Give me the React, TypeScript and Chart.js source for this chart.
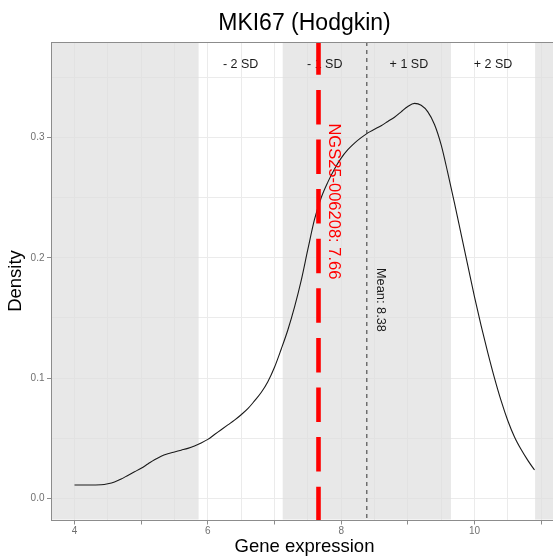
import React, { useEffect, useRef } from "react";
import { Chart, registerables } from "chart.js";

Chart.register(...registerables);

// ---- data ----
const DENSITY_X = [
  4.0, 4.2, 4.4, 4.5, 4.6, 4.7, 4.8, 4.9, 5.0, 5.1, 5.2, 5.3, 5.4, 5.5, 5.6, 5.7, 5.8, 5.9,
  6.0, 6.1, 6.2, 6.3, 6.4, 6.5, 6.6, 6.7, 6.8, 6.9, 7.0, 7.1, 7.2, 7.3, 7.4, 7.5, 7.6, 7.7,
  7.8, 7.9, 8.0, 8.1, 8.2, 8.3, 8.4, 8.5, 8.6, 8.7, 8.8, 8.9, 9.0, 9.1, 9.2, 9.3, 9.4, 9.5,
  9.6, 9.7, 9.8, 9.9, 10.0, 10.1, 10.2, 10.3, 10.4, 10.5, 10.6, 10.7, 10.8, 10.9,
];
const DENSITY_Y = [
  0.011, 0.011, 0.0112, 0.012, 0.0135, 0.016, 0.019, 0.022, 0.025, 0.0285, 0.032, 0.035, 0.037,
  0.0385, 0.04, 0.0415, 0.0435, 0.046, 0.049, 0.053, 0.057, 0.061, 0.065, 0.0695, 0.0745, 0.081,
  0.088, 0.097, 0.109, 0.124, 0.14, 0.159, 0.181, 0.207, 0.232, 0.25, 0.263, 0.274, 0.283,
  0.29, 0.2955, 0.3, 0.304, 0.307, 0.31, 0.3135, 0.317, 0.3215, 0.326, 0.3285, 0.327, 0.3215,
  0.311, 0.294, 0.2705, 0.2455, 0.2195, 0.1935, 0.1675, 0.1435, 0.121, 0.1, 0.081, 0.0645, 0.051,
  0.0405, 0.0315, 0.0235,
];

const TITLE = "MKI67 (Hodgkin)";
const X_TITLE = "Gene expression";
const Y_TITLE = "Density";
const SAMPLE_ID = "NGS25-006208";
const SAMPLE_VALUE = 7.66;
const SAMPLE_LABEL = "NGS25-006208: 7.66";
const MEAN_VALUE = 8.385;
const MEAN_LABEL = "Mean: 8.38";
const SD_VALUE = 1.262;
const SD_STEPS = [-2, -1, 0, 1, 2];
const SD_LABELS = ["- 2 SD", "- 1 SD", "+ 1 SD", "+ 2 SD"];
const SD_LABEL_Y = 0.3615;
const SAMPLE_LABEL_POS = [7.91, 0.247];
const MEAN_LABEL_POS = [8.6, 0.165];

const X_MIN = 3.655;
const X_MAX = 11.245;
const Y_MIN = -0.0181;
const Y_MAX = 0.3796;
const X_GRID = [4, 4.5, 5, 5.5, 6, 6.5, 7, 7.5, 8, 8.5, 9, 9.5, 10, 10.5, 11];
const X_TICK_MARKS = [4, 5, 6, 7, 8, 9, 10, 11];
const X_LABELS = [4, 6, 8, 10];
const Y_GRID = [0, 0.05, 0.1, 0.15, 0.2, 0.25, 0.3, 0.35];
const Y_LABELS = [0, 0.1, 0.2, 0.3];

const FONT = "'Liberation Sans', Arial, Helvetica, sans-serif";
const AXIS_COLOR = "#8c8c8c";
const GRID_COLOR = "#ebebeb";
const TICK_TEXT = "#707070";
const BAND_COLOR = "rgba(222,222,222,0.7)";

const annotationPlugin = {
  id: "sdAnnotations",
  beforeDatasetsDraw(chart: any) {
    const { ctx, chartArea: a, scales } = chart;
    const x = scales.x;
    const y = scales.y;
    const edges = SD_STEPS.map((k) => x.getPixelForValue(MEAN_VALUE + k * SD_VALUE));
    ctx.save();
    ctx.beginPath();
    ctx.rect(a.left + 0.5, a.top + 0.5, a.right - a.left - 1, a.bottom - a.top - 1);
    ctx.clip();
    ctx.fillStyle = BAND_COLOR;
    const h = a.bottom - a.top;
    ctx.fillRect(a.left, a.top, edges[0] - a.left, h);
    ctx.fillRect(edges[1], a.top, edges[3] - edges[1], h);
    ctx.fillRect(edges[4], a.top, a.right - edges[4], h);
    // SD labels
    const size = 12.5;
    ctx.font = `${size}px ${FONT}`;
    ctx.fillStyle = "#1a1a1a";
    ctx.textAlign = "center";
    ctx.textBaseline = "alphabetic";
    const ly = y.getPixelForValue(SD_LABEL_Y) + 0.358 * size;
    SD_LABELS.forEach((lab, i) => {
      const cx = (edges[i] + edges[i + 1]) / 2;
      ctx.fillText(lab, cx, ly);
    });
    ctx.restore();
  },
  afterDatasetsDraw(chart: any) {
    const { ctx, chartArea: a, scales } = chart;
    const x = scales.x;
    const y = scales.y;
    const drawRot = (text: string, vx: number, vy: number, size: number, color: string) => {
      ctx.save();
      ctx.translate(x.getPixelForValue(vx), y.getPixelForValue(vy));
      ctx.rotate(Math.PI / 2);
      ctx.font = `${size}px ${FONT}`;
      ctx.fillStyle = color;
      ctx.textAlign = "center";
      ctx.textBaseline = "alphabetic";
      ctx.fillText(text, 0, 0.358 * size);
      ctx.restore();
    };
    drawRot(SAMPLE_LABEL, SAMPLE_LABEL_POS[0], SAMPLE_LABEL_POS[1], 16.5, "#ff0000");
    drawRot(MEAN_LABEL, MEAN_LABEL_POS[0], MEAN_LABEL_POS[1], 12.8, "#1a1a1a");
    // top border of panel
    ctx.save();
    ctx.strokeStyle = AXIS_COLOR;
    ctx.lineWidth = 1;
    ctx.beginPath();
    const ty = Math.round(a.top) + 0.5;
    ctx.moveTo(a.left, ty);
    ctx.lineTo(a.right, ty);
    ctx.stroke();
    ctx.restore();
    // title centred over the panel
    ctx.save();
    const ts = 23;
    ctx.font = `${ts}px ${FONT}`;
    ctx.fillStyle = "#000000";
    ctx.textAlign = "center";
    ctx.textBaseline = "alphabetic";
    ctx.fillText(TITLE, (a.left + a.right) / 2, 29.5);
    ctx.restore();
  },
};

export default function App() {
  const canvasRef = useRef<HTMLCanvasElement | null>(null);

  useEffect(() => {
    if (!canvasRef.current) return;
    Chart.defaults.font.family = FONT;
    const curve = DENSITY_X.map((v, i) => ({ x: v, y: DENSITY_Y[i] }));
    const chart = new Chart(canvasRef.current, {
      type: "line",
      data: {
        datasets: [
          {
            label: SAMPLE_ID,
            data: [
              { x: SAMPLE_VALUE, y: Y_MAX },
              { x: SAMPLE_VALUE, y: Y_MIN },
            ],
            borderColor: "#ff0000",
            borderWidth: 4.6,
            borderDash: [34.5, 15.1],
            borderDashOffset: 1.7,
            pointRadius: 0,
            tension: 0,
            fill: false,
          },
          {
            label: "Mean",
            data: [
              { x: MEAN_VALUE, y: Y_MAX },
              { x: MEAN_VALUE, y: Y_MIN },
            ],
            borderColor: "#333333",
            borderWidth: 1,
            borderDash: [4, 4],
            pointRadius: 0,
            tension: 0,
            fill: false,
          },
          {
            label: "Density",
            data: curve,
            borderColor: "#1a1a1a",
            borderWidth: 1.1,
            pointRadius: 0,
            cubicInterpolationMode: "monotone",
            fill: false,
          },
        ],
      },
      options: {
        animation: false,
        responsive: false,
        devicePixelRatio: 1,
        layout: { padding: { left: 0, right: 42.5, top: 42, bottom: 0 } },
        plugins: {
          legend: { display: false },
          tooltip: { enabled: false },
          title: { display: false },
        },
        scales: {
          x: {
            type: "linear",
            min: X_MIN,
            max: X_MAX,
            afterBuildTicks: (axis: any) => {
              axis.ticks = X_GRID.map((v) => ({ value: v }));
            },
            afterFit: (s: any) => {
              s.height = 40;
            },
            ticks: {
              autoSkip: false,
              maxRotation: 0,
              minRotation: 0,
              padding: 1,
              color: TICK_TEXT,
              font: { size: 10, family: FONT },
              callback: (v: any) => (X_LABELS.includes(Number(v)) ? String(v) : ""),
            },
            grid: {
              color: GRID_COLOR,
              lineWidth: 1,
              tickLength: 4.5,
              tickColor: (c: any) =>
                c.tick && X_TICK_MARKS.includes(c.tick.value) ? AXIS_COLOR : "rgba(0,0,0,0)",
            },
            border: { display: true, color: AXIS_COLOR, width: 1 },
            title: {
              display: true,
              text: X_TITLE,
              color: "#000000",
              font: { size: 18.5, family: FONT, lineHeight: 1.2 },
              padding: { top: 0, bottom: 1.5 },
            },
          },
          y: {
            type: "linear",
            min: Y_MIN,
            max: Y_MAX,
            afterBuildTicks: (axis: any) => {
              axis.ticks = Y_GRID.map((v) => ({ value: v }));
            },
            afterFit: (s: any) => {
              s.width = 51.5;
            },
            ticks: {
              autoSkip: false,
              padding: 2.5,
              color: TICK_TEXT,
              font: { size: 10, family: FONT },
              callback: (v: any) => (Y_LABELS.includes(Number(v)) ? Number(v).toFixed(1) : ""),
            },
            grid: {
              color: GRID_COLOR,
              lineWidth: 1,
              tickLength: 4.5,
              tickColor: (c: any) =>
                c.tick && Y_LABELS.includes(c.tick.value) ? AXIS_COLOR : "rgba(0,0,0,0)",
            },
            border: { display: true, color: AXIS_COLOR, width: 1 },
            title: {
              display: true,
              text: Y_TITLE,
              color: "#000000",
              font: { size: 18.5, family: FONT, lineHeight: 1.2 },
              padding: { top: 5.2, bottom: 0 },
            },
          },
        },
      },
      plugins: [annotationPlugin],
    } as any);
    return () => chart.destroy();
  }, []);

  return (
    <div
      style={{
        position: "fixed",
        left: 0,
        top: 0,
        width: 553,
        height: 560,
        overflow: "hidden",
        background: "#ffffff",
      }}
    >
      <canvas ref={canvasRef} width={600} height={560} style={{ display: "block" }} />
    </div>
  );
}
